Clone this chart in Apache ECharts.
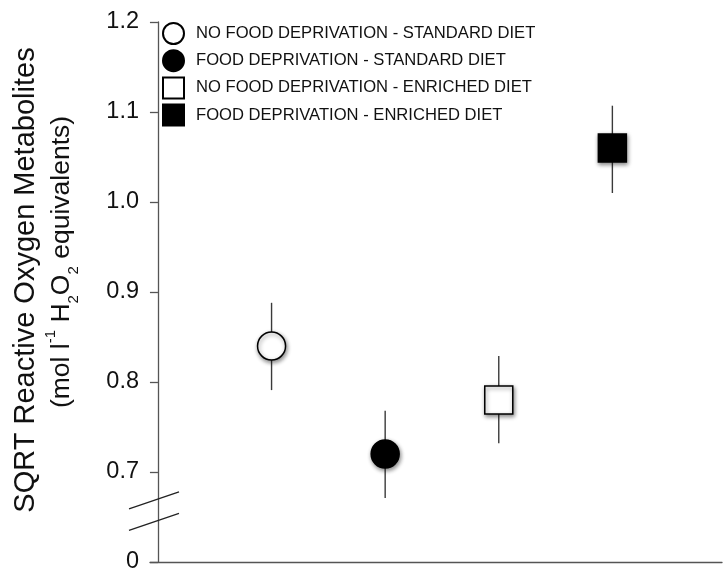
<!DOCTYPE html>
<html>
<head>
<meta charset="utf-8">
<script src="https://cdn.jsdelivr.net/npm/echarts@6/dist/echarts.min.js"></script>
<style>html,body{margin:0;padding:0;background:#fff}#c{width:723px;height:574px}</style>
</head>
<body>
<div id="c"></div>
<script>
// ---- data ----
var groups = ['NO FOOD DEPRIVATION - STANDARD DIET', 'FOOD DEPRIVATION - STANDARD DIET', 'NO FOOD DEPRIVATION - ENRICHED DIET', 'FOOD DEPRIVATION - ENRICHED DIET'];
var positions = [1, 2, 3, 4];
var means = [0.84, 0.72, 0.78, 1.06];
var errLow = [0.791, 0.671, 0.732, 1.010];
var errHigh = [0.888, 0.768, 0.829, 1.107];
var yTicks = [0.6, 0.7, 0.8, 0.9, 1.0, 1.1, 1.2];
var yTickLabels = ['0', '0.7', '0.8', '0.9', '1.0', '1.1', '1.2'];
var breakMarks = [0.667, 0.643];
var titleLine1 = 'SQRT Reactive Oxygen Metabolites';
var titleLine2 = '(mol l{sup|-1} H{sub|2}O{sub|2} equivalents)';

var FONT = '"Liberation Sans", Arial, Helvetica, sans-serif';
var symbols = ['circle', 'circle', 'rect', 'rect'];
var fills = ['#ffffff', '#000000', '#ffffff', '#000000'];

var chart = echarts.init(document.getElementById('c'), null, {renderer: 'canvas'});

var series = [];
series.push({
  type: 'custom',
  name: 'err',
  z: 1,
  silent: true,
  data: positions.map(function (p, i) { return [p, errLow[i], errHigh[i]]; }),
  renderItem: function (params, api) {
    var a = api.coord([api.value(0), api.value(1)]);
    var b = api.coord([api.value(0), api.value(2)]);
    return {type: 'line', shape: {x1: a[0], y1: a[1], x2: b[0], y2: b[1]},
      style: {stroke: '#3a3a3a', lineWidth: 1.4}};
  }
});
groups.forEach(function (g, i) {
  series.push({
    type: 'scatter',
    name: g,
    z: 3,
    symbol: symbols[i],
    symbolSize: 28,
    data: [[positions[i], means[i]]],
    itemStyle: {color: fills[i], borderColor: '#000', borderWidth: 1.5, opacity: 1,
      shadowBlur: 4, shadowColor: 'rgba(0,0,0,0.45)', shadowOffsetX: 1, shadowOffsetY: 2},
    emphasis: {disabled: true}
  });
});

chart.setOption({
  animation: false,
  backgroundColor: '#fff',
  grid: {left: 150, right: 1, top: 22, bottom: 12, containLabel: false},
  legend: {
    orient: 'vertical', left: 162, top: 22, padding: 0, itemWidth: 21, itemHeight: 21, itemGap: 4.2,
    data: groups, selectedMode: false,
    textStyle: {fontFamily: FONT, fontSize: 16.6, color: '#111', padding: [0, 0, 0, 7]}
  },
  xAxis: {
    type: 'value', min: -0.07, max: 4.965,
    axisLine: {show: true, lineStyle: {color: '#555', width: 1.3}},
    axisTick: {show: false}, axisLabel: {show: false}, splitLine: {show: false}
  },
  yAxis: {
    type: 'value', min: yTicks[0], max: yTicks[yTicks.length - 1], interval: 0.1,
    axisLine: {show: true, lineStyle: {color: '#555', width: 1.3}},
    axisTick: {show: true, length: 8, lineStyle: {color: '#555', width: 1.3}},
    splitLine: {show: false},
    axisLabel: {
      margin: 11, fontFamily: FONT, fontSize: 23.5, color: '#111',
      formatter: function (v) {
        for (var i = 0; i < yTicks.length; i++) {
          if (Math.abs(v - yTicks[i]) < 1e-6) return yTickLabels[i];
        }
        return '';
      }
    }
  },
  graphic: [{
    type: 'text', id: 'ytitle1', x: 26, y: 280, rotation: Math.PI / 2,
    style: {
      text: titleLine1, align: 'center', verticalAlign: 'middle',
      fontFamily: FONT, fontSize: 29, fill: '#111'
    }
  }, {
    type: 'text', id: 'ytitle2', x: 62, y: 262, rotation: Math.PI / 2,
    style: {
      text: titleLine2, align: 'center', verticalAlign: 'middle',
      fontFamily: FONT, fontSize: 26.5, lineHeight: 38, fill: '#111',
      rich: {
        sup: {fontFamily: FONT, fontSize: 15, lineHeight: 20, verticalAlign: 'top', fill: '#111'},
        sub: {fontFamily: FONT, fontSize: 15, lineHeight: 17, verticalAlign: 'bottom', fill: '#111'}
      }
    }
  }],
  series: series
});

// axis break decoration computed from the axis scale
var gfx = [];
var p0 = chart.convertToPixel({gridIndex: 0}, [-0.07, breakMarks[0]]);
var p1 = chart.convertToPixel({gridIndex: 0}, [-0.07, breakMarks[1]]);
var ax = p0[0];
gfx.push({type: 'rect', id: 'gap', z: 100, shape: {x: ax - 3, y: p0[1], width: 6, height: p1[1] - p0[1]},
  style: {fill: '#fff'}});
[p0, p1].forEach(function (p, k) {
  gfx.push({type: 'line', id: 'brk' + k, z: 101,
    shape: {x1: ax - 21, y1: p[1] + 7.1, x2: ax + 29, y2: p[1] - 9.9},
    style: {stroke: '#222', lineWidth: 1.3}});
});
chart.setOption({graphic: gfx});
</script>
</body>
</html>
